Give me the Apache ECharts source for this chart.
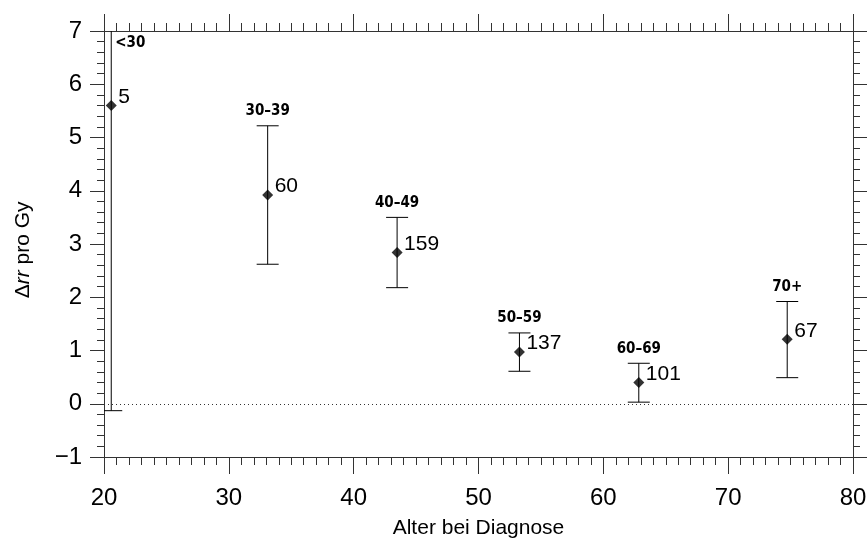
<!DOCTYPE html>
<html>
<head>
<meta charset="utf-8">
<script src="https://cdn.jsdelivr.net/npm/echarts@6/dist/echarts.min.js"></script>
<style>
  html, body { margin: 0; padding: 0; background: #fff; }
  #chart { width: 868px; height: 540px; }
</style>
</head>
<body>
<div id="chart"></div>
<script>
// Altersgruppen bei Diagnose
var groupLabels = ['<30', '30\u201339', '40\u201349', '50\u201359', '60\u201369', '70+'];
var meanAge = [20.58, 33.11, 43.48, 53.28, 62.84, 74.73];
var deltaRR = [5.60, 3.92, 2.84, 0.97, 0.40, 1.21];
var lowerCI = [-0.13, 2.62, 2.18, 0.61, 0.03, 0.49];
var upperCI = [7.6, 5.22, 3.50, 1.33, 0.76, 1.92]; // <30: oberes Ende ausserhalb der Achse
var cases = [5, 60, 159, 137, 101, 67];

var yMin = -1, yMax = 7;
var font = '"Liberation Sans", Arial, Helvetica, sans-serif';
var narrowFont = '"Liberation Sans Narrow", "DejaVu Sans Condensed", "Liberation Sans", sans-serif';
var axisColor = '#333';

var barData = [];
var pointData = [];
for (var i = 0; i < meanAge.length; i++) {
	barData.push([meanAge[i], lowerCI[i], upperCI[i], deltaRR[i], cases[i], i]);
	pointData.push([meanAge[i], deltaRR[i]]);
}

function renderBar(params, api) {
	var x = api.value(0);
	var lo = api.coord([x, api.value(1)]);
	var hi = api.coord([x, api.value(2)]);
	var mid = api.coord([x, api.value(3)]);
	var top = api.coord([x, yMax]);
	var hw = 11;
	var style = { stroke: '#000', lineWidth: 1 };
	var children = [
		{ type: 'line', shape: { x1: lo[0], y1: lo[1], x2: hi[0], y2: hi[1] }, style: style },
		{ type: 'line', shape: { x1: lo[0] - hw, y1: lo[1], x2: lo[0] + hw, y2: lo[1] }, style: style },
		{ type: 'line', shape: { x1: hi[0] - hw, y1: hi[1], x2: hi[0] + hw, y2: hi[1] }, style: style },
		{
			type: 'text',
			style: {
				x: mid[0] + 7, y: mid[1] + 2, text: String(api.value(4)),
				fill: '#000', font: '21px ' + font, textAlign: 'left', textVerticalAlign: 'bottom'
			}
		}
	];
	var label = groupLabels[api.value(5)];
	if (api.value(2) > yMax) {
		children.push({
			type: 'text',
			style: {
				x: top[0] + 4, y: top[1] + 5, text: label, fill: '#000',
				font: 'bold 15px ' + narrowFont, textAlign: 'left', textVerticalAlign: 'top'
			}
		});
	} else {
		children.push({
			type: 'text',
			style: {
				x: hi[0], y: hi[1] - 7, text: label, fill: '#000',
				font: 'bold 15px ' + narrowFont, textAlign: 'center', textVerticalAlign: 'bottom'
			}
		});
	}
	return { type: 'group', children: children };
}

function xAxisCfg(pos) {
	return {
		type: 'value', position: pos, min: 20, max: 80, interval: 10,
		axisLine: { show: true, onZero: false, lineStyle: { color: axisColor, width: 1 } },
		axisTick: { show: true, length: 17, lineStyle: { color: axisColor } },
		minorTick: { show: true, splitNumber: 10, length: 8, lineStyle: { color: axisColor } },
		splitLine: { show: false },
		axisLabel: pos == 'bottom'
			? { show: true, fontSize: 24, color: '#000', fontFamily: font, margin: 29 }
			: { show: false }
	};
}

function yAxisCfg(pos) {
	return {
		type: 'value', position: pos, min: yMin, max: yMax, interval: 1,
		axisLine: { show: true, onZero: false, lineStyle: { color: axisColor, width: 1 } },
		axisTick: { show: true, length: 14, lineStyle: { color: axisColor } },
		minorTick: { show: true, splitNumber: 5, length: 7, lineStyle: { color: axisColor } },
		splitLine: { show: false },
		axisLabel: pos == 'left'
			? {
				show: true, fontSize: 24, color: '#000', fontFamily: font, margin: 22,
				formatter: function (v) { return String(v).replace('-', '\u2212'); }
			}
			: { show: false }
	};
}

var chart = echarts.init(document.getElementById('chart'), null, { renderer: 'canvas' });

var xBottom = xAxisCfg('bottom');
xBottom.name = 'Alter bei Diagnose';
xBottom.nameLocation = 'middle';
xBottom.nameGap = 61;
xBottom.nameTextStyle = { fontSize: 21, color: '#000', fontFamily: font };

var yLeft = yAxisCfg('left');
// trailing spaces push the rotated name a little downwards
yLeft.name = '{n|\u0394}{i|rr}{n| pro Gy}{n|\u00a0\u00a0}';
yLeft.nameLocation = 'middle';
yLeft.nameRotate = 90;
yLeft.nameGap = 70;
yLeft.nameTextStyle = {
	fontSize: 21, color: '#000', fontFamily: font,
	rich: {
		n: { fontSize: 21, color: '#000', fontFamily: font },
		i: { fontSize: 21, color: '#000', fontFamily: font, fontStyle: 'italic' }
	}
};

var option = {
	animation: false,
	backgroundColor: '#fff',
	grid: { left: 104, right: 15, top: 31, bottom: 83, outerBoundsMode: 'none' },
	xAxis: [xBottom, xAxisCfg('top')],
	yAxis: [yLeft, yAxisCfg('right')],
	series: [
		{
			type: 'custom',
			renderItem: renderBar,
			clip: true,
			data: barData,
			encode: { x: 0, y: [1, 2] },
			z: 2
		},
		{
			type: 'scatter',
			symbol: 'diamond',
			symbolSize: 11,
			itemStyle: { color: '#000' },
			data: pointData,
			z: 3,
			markLine: {
				silent: true,
				symbol: ['none', 'none'],
				label: { show: false },
				lineStyle: { color: '#333', width: 1, type: [1, 3] },
				data: [{ yAxis: 0 }]
			}
		}
	]
};

chart.setOption(option);
</script>
</body>
</html>
